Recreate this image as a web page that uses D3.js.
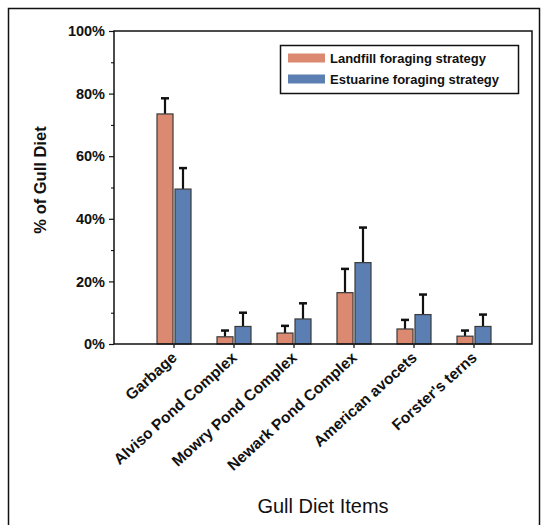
<!DOCTYPE html>
<html>
<head>
<meta charset="utf-8">
<script src="https://cdnjs.cloudflare.com/ajax/libs/d3/7.8.5/d3.min.js"></script>
<style>
    body { margin: 0; background: #fff; }
    text { font-family: Arial, "Liberation Sans", sans-serif; }
</style>
</head>
<body>
<div id="chart"></div>
<script>
var categories = ['Garbage', 'Alviso Pond Complex', 'Mowry Pond Complex',
    'Newark Pond Complex', 'American avocets', "Forster's terns"];
var seriesNames = ['Landfill foraging strategy', 'Estuarine foraging strategy'];
var landfillMean = [73.5, 2.3, 3.5, 16.4, 4.8, 2.5];
var landfillErr = [78.5, 4.3, 5.8, 24, 7.7, 4.3];
var estuarineMean = [49.5, 5.6, 8, 26, 9.4, 5.6];
var estuarineErr = [56.2, 10, 13, 37.2, 15.8, 9.4];
var yTicks = [0, 20, 40, 60, 80, 100];

function groupedBarChart(parentId) {

    var width = 547;
    var height = 525;
    var colors = ['#db8971', '#5c7fb3'];

    var svg = d3.select('#' + parentId).append('svg')
        .attr('width', width)
        .attr('height', height);

    // outer frame of the figure
    svg.append('rect')
        .attr('x', 8.5).attr('y', 8.5)
        .attr('width', 531).attr('height', 530)
        .style('fill', 'none')
        .style('stroke', '#111')
        .style('stroke-width', 1.5);

    var left = 114, right = 532, top = 31, bottom = 344;

    var xScale = d3.scaleBand()
        .domain(categories)
        .range([left + 30, left + 390]);

    var yScale = d3.scaleLinear()
        .domain([0, 100])
        .range([bottom, top]);

    var rows = categories.map(function (c, i) {
        return {
            cat: c,
            values: [
                { s: 0, mean: landfillMean[i], err: landfillErr[i] },
                { s: 1, mean: estuarineMean[i], err: estuarineErr[i] }
            ]
        };
    });

    var barW = 16;

    // error bars first, bars drawn over them
    var groups = svg.append('g').selectAll('.grp')
        .data(rows)
        .enter().append('g')
        .attr('transform', function (d) {
            return 'translate(' + (xScale(d.cat) + xScale.bandwidth() / 2) + ',0)';
        });

    groups.selectAll('.err')
        .data(function (d) { return d.values; })
        .enter().append('g')
        .each(function (d) {
            var cx = d.s === 0 ? -barW / 2 - 1 : barW / 2 + 1;
            var g = d3.select(this);
            g.append('line')
                .attr('x1', cx).attr('x2', cx)
                .attr('y1', yScale(d.mean)).attr('y2', yScale(d.err))
                .style('stroke', '#111').style('stroke-width', 2.2);
            g.append('line')
                .attr('x1', cx - 4).attr('x2', cx + 4)
                .attr('y1', yScale(d.err)).attr('y2', yScale(d.err))
                .style('stroke', '#111').style('stroke-width', 2.5);
        });

    groups.selectAll('.bar')
        .data(function (d) { return d.values; })
        .enter().append('rect')
        .attr('x', function (d) { return d.s === 0 ? -barW - 1 : 1; })
        .attr('y', function (d) { return yScale(d.mean); })
        .attr('width', barW)
        .attr('height', function (d) { return yScale(0) - yScale(d.mean); })
        .style('fill', function (d) { return colors[d.s]; })
        .style('stroke', '#3a3a3a')
        .style('stroke-width', 1.2);

    // plot frame
    svg.append('rect')
        .attr('x', left).attr('y', top)
        .attr('width', right - left).attr('height', bottom - top)
        .style('fill', 'none')
        .style('stroke', '#111')
        .style('stroke-width', 1.5);

    var yAxis = d3.axisLeft(yScale)
        .tickValues(yTicks)
        .tickSize(5)
        .tickFormat(function (d) { return d + '%'; });

    var minorAxis = d3.axisLeft(yScale)
        .tickValues(d3.range(10, 100, 20))
        .tickSize(3)
        .tickFormat('');

    var yG = svg.append('g')
        .attr('transform', 'translate(' + left + ',0)')
        .call(yAxis);
    svg.append('g')
        .attr('transform', 'translate(' + left + ',0)')
        .call(minorAxis)
        .select('.domain').remove();

    yG.select('.domain').remove();
    yG.selectAll('line').style('stroke', '#111').style('stroke-width', 1.2);
    yG.selectAll('text')
        .attr('x', -9)
        .style('font-size', '14.5px')
        .style('font-weight', 'bold')
        .style('fill', '#111');

    var xAxis = d3.axisBottom(xScale).tickSize(4);
    var xG = svg.append('g')
        .attr('transform', 'translate(0,' + bottom + ')')
        .call(xAxis);
    xG.select('.domain').remove();
    xG.selectAll('line').style('stroke', '#111').style('stroke-width', 1.2);
    xG.selectAll('text')
        .attr('y', 0).attr('dy', 0)
        .attr('transform', 'translate(4,15) rotate(-42)')
        .style('text-anchor', 'end')
        .style('font-size', '15.5px')
        .style('font-weight', 'bold')
        .style('fill', '#111');

    svg.append('text')
        .attr('transform', 'translate(46,180) rotate(-90)')
        .attr('text-anchor', 'middle')
        .style('font-size', '16.5px')
        .style('font-weight', 'bold')
        .style('fill', '#111')
        .text('% of Gull Diet');

    svg.append('text')
        .attr('x', 323).attr('y', 513)
        .attr('text-anchor', 'middle')
        .style('font-size', '20px')
        .style('fill', '#111')
        .text('Gull Diet Items');

    // legend
    var legend = svg.append('g');
    legend.append('rect')
        .attr('x', 280.5).attr('y', 45.5)
        .attr('width', 238).attr('height', 48)
        .style('fill', '#fff')
        .style('stroke', '#111')
        .style('stroke-width', 1.5);

    var items = legend.selectAll('.item')
        .data(seriesNames)
        .enter().append('g')
        .attr('transform', function (d, i) {
            return 'translate(288,' + (58 + i * 21) + ')';
        });
    items.append('rect')
        .attr('x', 0).attr('y', -4.5)
        .attr('width', 37).attr('height', 9)
        .style('fill', function (d, i) { return colors[i]; });
    items.append('text')
        .attr('x', 42).attr('dy', '0.35em')
        .style('font-size', '13px')
        .style('font-weight', 'bold')
        .style('fill', '#111')
        .text(function (d) { return d; });
}

groupedBarChart('chart');
</script>
</body>
</html>
